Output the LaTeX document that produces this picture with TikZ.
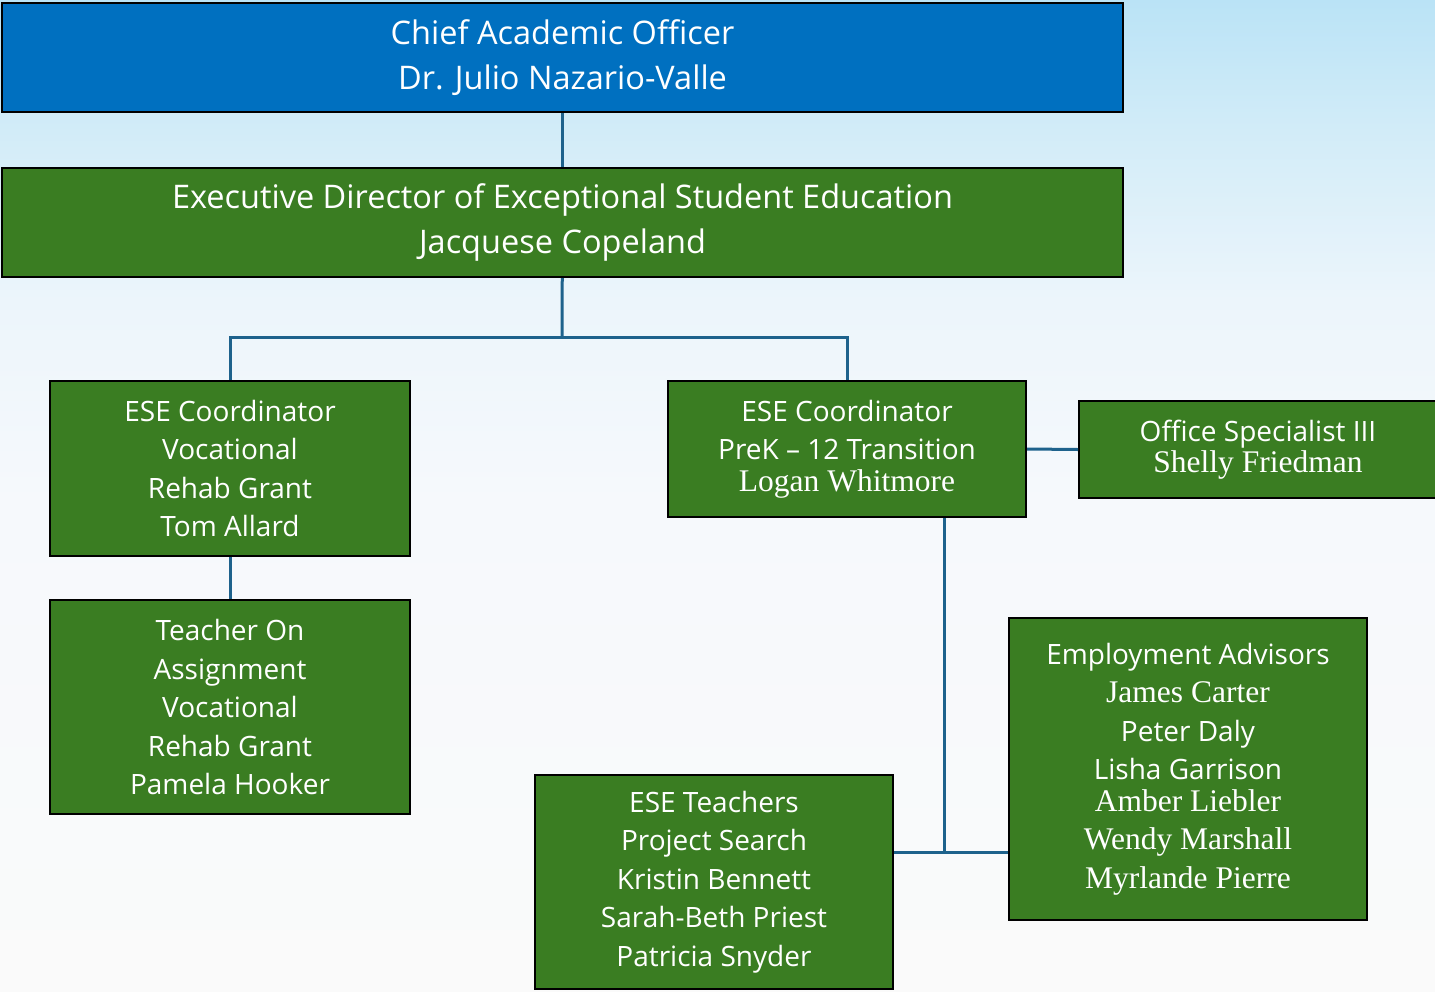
\documentclass[tikz,border=0pt]{standalone}
\usepackage{fontspec}
\setmainfont{Open Sans}
\newfontfamily\namefont{Liberation Serif}
\definecolor{esegreen}{RGB}{58,125,34}
\definecolor{caoblue}{RGB}{0,112,192}
\definecolor{linkblue}{RGB}{30,98,140}
\definecolor{skytop}{RGB}{186,227,246}
\definecolor{skyhigh}{RGB}{210,236,248}
\definecolor{skymid}{RGB}{236,245,251}
\definecolor{skylow}{RGB}{246,249,252}
\definecolor{offwhite}{RGB}{250,250,250}
\pgfdeclareverticalshading{skyfade}{100bp}{%
  color(0bp)=(offwhite); color(25bp)=(offwhite);
  color(49.7bp)=(skylow); color(59.9bp)=(skymid);
  color(68.4bp)=(skyhigh); color(75bp)=(skytop);
  color(100bp)=(skytop)}

\begin{document}
\begin{tikzpicture}[x=1pt,y=-1pt]
            \tikzset{box/.style 2 args={draw=black, line width=2pt, fill=esegreen, text=white, align=center, inner sep=0pt, minimum width=#1, minimum height=#2, font=\fontsize{28}{38.5}\selectfont}};
            \tikzset{link/.style={draw=linkblue, line width=3pt}};
            \shade[shading=skyfade] (0,0) rectangle (1435,991);
            \useasboundingbox (0,0) rectangle (1435,991);
            
            \node[box={1121pt}{109pt}, fill=caoblue, font=\fontsize{32.5}{45}\selectfont] (cao) at (562.5,57.5) {Chief Academic Officer\\Dr. Julio Nazario-Valle};
            \node[box={1121pt}{109pt}, font=\fontsize{32.5}{45}\selectfont] (exec) at (562.5,222.5) {Executive Director of Exceptional Student Education\\Jacquese Copeland};
            
            \node[box={360pt}{175pt}] (vocco) at (230,468.5) {ESE Coordinator\\Vocational\\Rehab Grant\\Tom Allard};
            \node[box={360pt}{214pt}] (toa) at (230,707) {Teacher On\\Assignment\\Vocational\\Rehab Grant\\Pamela Hooker};
            \node[box={358pt}{136pt}] (transco) at (847,449) {ESE Coordinator\\PreK -- 12 Transition\\[-7pt]{\namefont\fontsize{31.5}{38.5}\selectfont Logan Whitmore}};
            \node[box={358pt}{97pt}] (office) at (1258,449.5) {Office Specialist III\\[-7pt]{\namefont\fontsize{31.5}{38.5}\selectfont Shelly Friedman}};
            \node[box={358pt}{214pt}] (teachers) at (714,882) {ESE Teachers\\Project Search\\Kristin Bennett\\Sarah-Beth Priest\\Patricia Snyder};
            \node[box={358pt}{302pt}] (advisors) at (1188,769) {Employment Advisors\\{\namefont\fontsize{31.5}{38.5}\selectfont James Carter}\\Peter Daly\\Lisha Garrison\\[-7pt]{\namefont\fontsize{31.5}{38.5}\selectfont Amber Liebler}\\{\namefont\fontsize{31.5}{38.5}\selectfont Wendy Marshall}\\{\namefont\fontsize{31.5}{38.5}\selectfont Myrlande Pierre}};
            
            \coordinate (split) at (562,337);
            \coordinate (joint) at (944,852);
            
            \draw[link] (cao)--(exec);
            \draw[link] (exec)--(split);
            \draw[link] (vocco.north) |- (split) -| (transco.north);
            \draw[link] (vocco)--(toa);
            \draw[link] (transco.east)--(office.west);
            \draw[link] (transco.south -| joint)--(joint);
            \draw[link] (joint -| teachers.east)--(joint -| advisors.west);
        \end{tikzpicture}
\end{document}
